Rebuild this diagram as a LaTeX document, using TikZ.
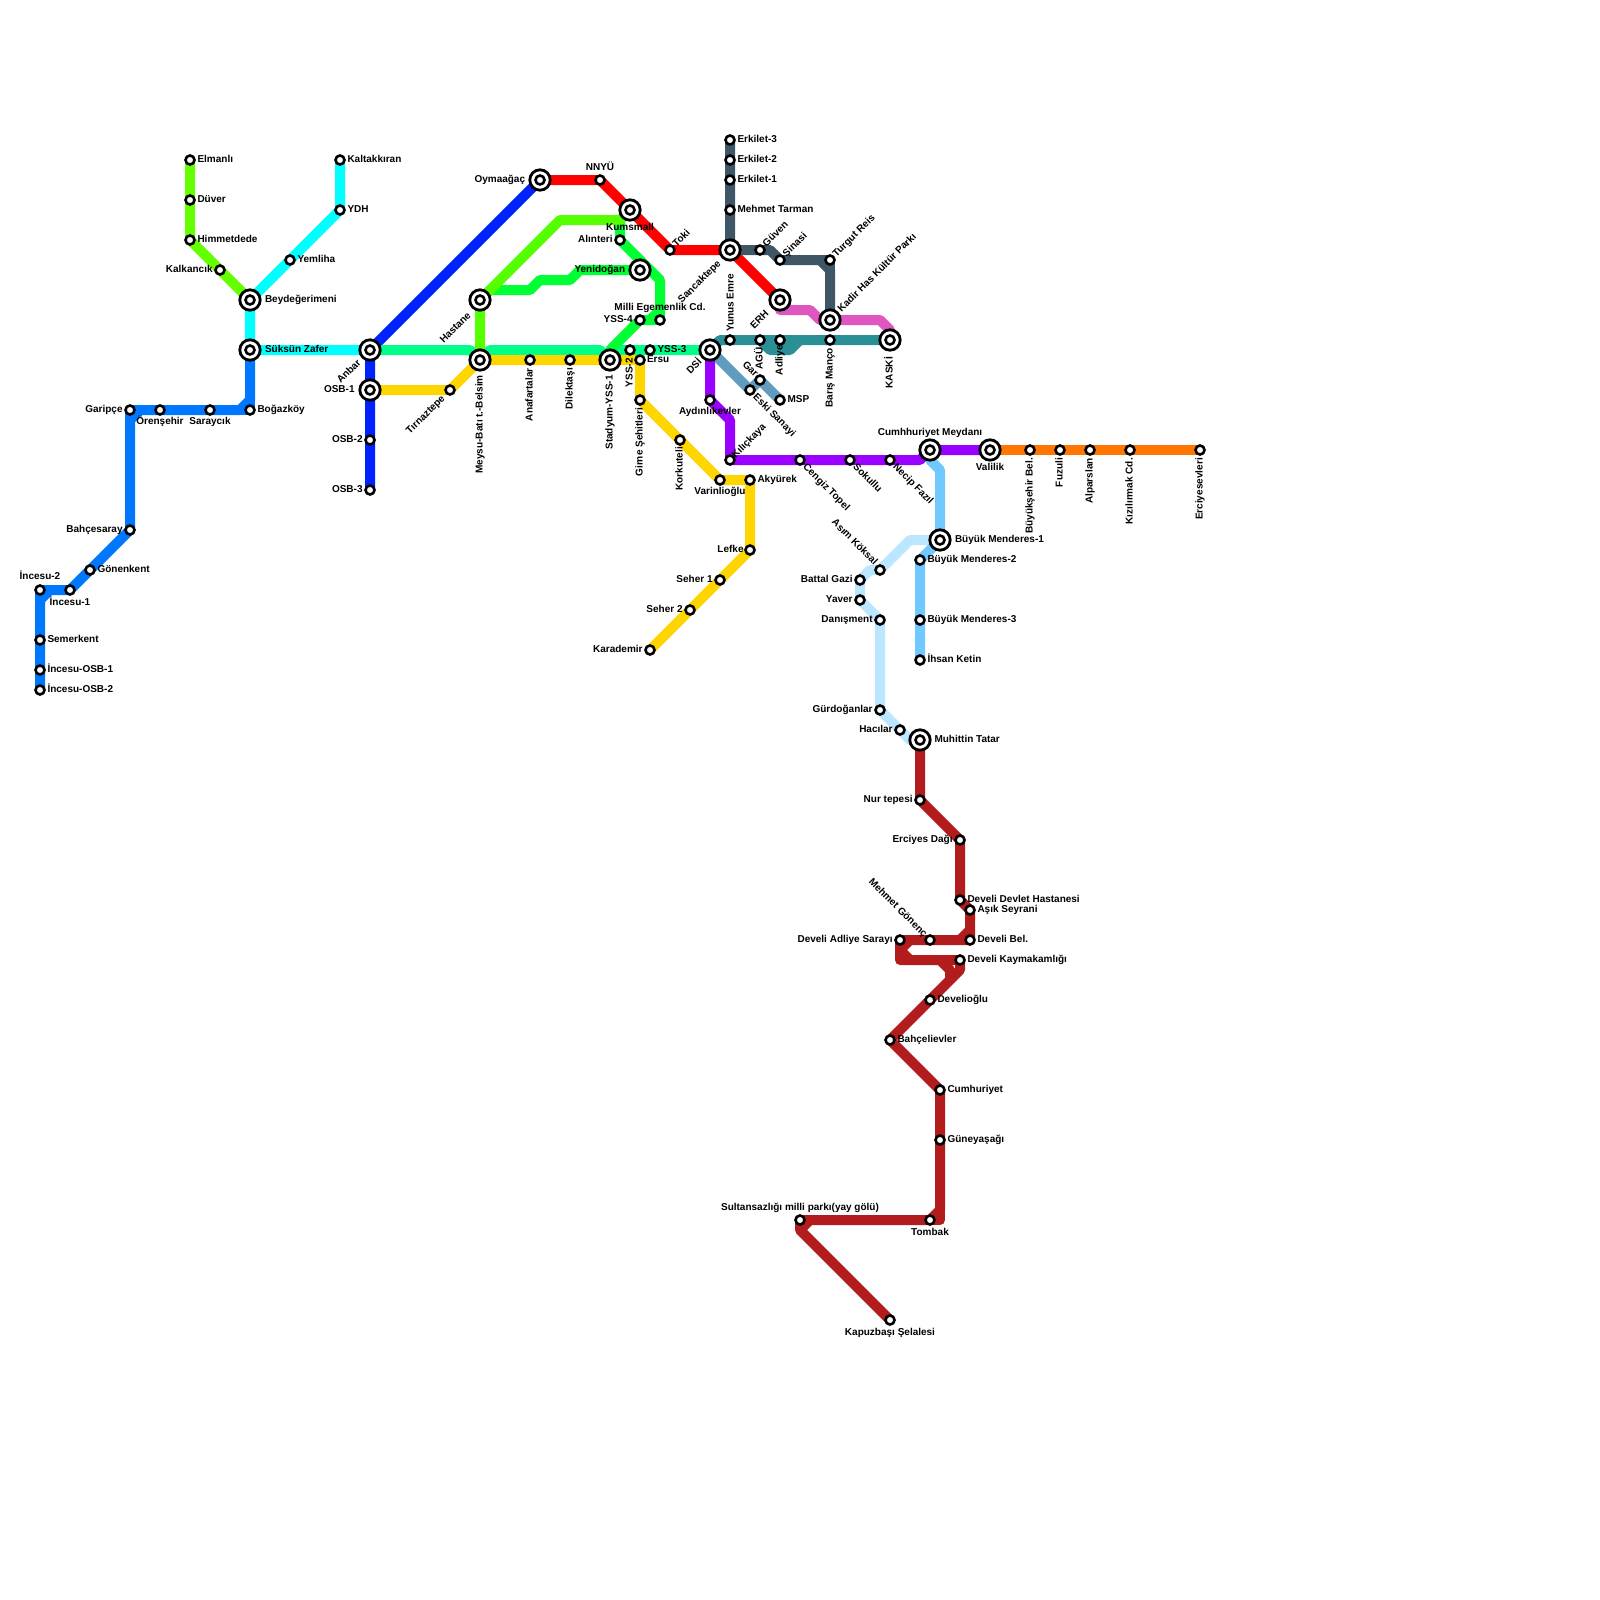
\documentclass[tikz,border=0pt]{standalone}
\usepackage{fontspec}
\setmainfont{Liberation Sans}
\usetikzlibrary{backgrounds}
\definecolor{hatBlue}{HTML}{0077FF}
\definecolor{hatNavy}{HTML}{0022FF}
\definecolor{hatLime}{HTML}{66FF00}
\definecolor{hatGrass}{HTML}{55FF00}
\definecolor{hatCyan}{HTML}{00FFFF}
\definecolor{hatSpring}{HTML}{00FF88}
\definecolor{hatGreen}{HTML}{00FF33}
\definecolor{hatYellow}{HTML}{FFD500}
\definecolor{hatRed}{HTML}{FF0000}
\definecolor{hatSlate}{HTML}{3F5666}
\definecolor{hatPink}{HTML}{E055C0}
\definecolor{hatTeal}{HTML}{2A9096}
\definecolor{hatSteel}{HTML}{609CC0}
\definecolor{hatPurple}{HTML}{9900FF}
\definecolor{hatOrange}{HTML}{FF7700}
\definecolor{hatSky}{HTML}{70C8FF}
\definecolor{hatPale}{HTML}{BBE6FF}
\definecolor{hatBrick}{HTML}{B21C1C}

\begin{document}
\begin{tikzpicture}[
  x=1pt,y=-1pt,
  stn/.style={circle,draw=black,fill=white,line width=2.6pt,minimum size=9pt,inner sep=0pt},
  hub/.style={circle,draw=black,fill=white,line width=2.8pt,minimum size=20.4pt,inner sep=0pt,
    path picture={\draw[black,line width=2.6pt] (path picture bounding box.center) circle (4.5pt);}},
  hat/.style={line width=10pt,line join=round},
  txt/.style={font=\bfseries\fontsize{10}{12}\selectfont,inner sep=0pt,text height=7.2pt,text depth=0pt},
  txtE/.style={txt,anchor=west,xshift=-.7pt},
  txtW/.style={txt,anchor=east,xshift=.8pt},
  upE/.style={txt,rotate=90,anchor=east},
  upW/.style={txt,rotate=90,anchor=west},
  riseE/.style={txt,rotate=45,anchor=west},
  riseW/.style={txt,rotate=45,anchor=east,xshift=-2pt,yshift=1pt},
  fallE/.style={txt,rotate=-45,anchor=west},
  fallW/.style={txt,rotate=-45,anchor=east}
]
\path[use as bounding box] (0,0) rectangle (1600,1600);

% Batı kolu
\node[stn] (osbB) at (40,690) {}; \node[txtE] (osbBt) at (48,689) {İncesu-OSB-2};
\node[stn] (osbA) at (40,670) {}; \node[txtE] (osbAt) at (48,669) {İncesu-OSB-1};
\node[stn] (semerkent) at (40,640) {}; \node[txtE] (semerkentt) at (48,639) {Semerkent};
\node[stn] (incesuB) at (40,590) {}; \node[txt] (incesuBt) at (40,576) {İncesu-2};
\node[stn] (incesuA) at (70,590) {}; \node[txt] (incesuAt) at (70,602) {İncesu-1};
\node[stn] (gonenkent) at (90,570) {}; \node[txtE] (gonenkentt) at (98,569) {Gönenkent};
\node[stn] (bahcesaray) at (130,530) {}; \node[txtW] (bahcesarayt) at (122,529) {Bahçesaray};
\node[stn] (garipce) at (130,410) {}; \node[txtW] (garipcet) at (122,409) {Garipçe};
\node[stn] (orensehir) at (160,410) {}; \node[txt] (orensehirt) at (160,421) {Örenşehir};
\node[stn] (saraycik) at (210,410) {}; \node[txt] (saraycikt) at (210,421) {Saraycık};
\node[stn] (bogazkoy) at (250,410) {}; \node[txtE] (bogazkoyt) at (258,409) {Boğazköy};
\node[hub] (suksun) at (250,350) {}; \node[txtE] (suksunt) at (265.5,349) {Süksün Zafer};
\node[hub] (beyde) at (250,300) {}; \node[txtE] (beydet) at (265.5,299) {Beydeğerimeni};
\node[stn] (elmanli) at (190,160) {}; \node[txtE] (elmanlit) at (198,159) {Elmanlı};
\node[stn] (duver) at (190,200) {}; \node[txtE] (duvert) at (198,199) {Düver};
\node[stn] (himmet) at (190,240) {}; \node[txtE] (himmett) at (198,239) {Himmetdede};
\node[stn] (kalkancik) at (220,270) {}; \node[txtW] (kalkancikt) at (212,269) {Kalkancık};
\node[stn] (yemliha) at (290,260) {}; \node[txtE] (yemlihat) at (298,259) {Yemliha};
\node[stn] (ydh) at (340,210) {}; \node[txtE] (ydht) at (348,209) {YDH};
\node[stn] (kaltak) at (340,160) {}; \node[txtE] (kaltakt) at (348,159) {Kaltakkıran};
\node[hub] (anbar) at (370,350) {}; \node[riseW] (anbart) at (361,360) {Anbar};
\node[hub] (osbI) at (370,390) {}; \node[txtW] (osbIt) at (354,389) {OSB-1};
\node[stn] (osbII) at (370,440) {}; \node[txtW] (osbIIt) at (362,439) {OSB-2};
\node[stn] (osbIII) at (370,490) {}; \node[txtW] (osbIIIt) at (362,489) {OSB-3};
\node[stn] (tirnaz) at (450,390) {}; \node[riseW] (tirnazt) at (445,396) {Tırnaztepe};

% Orta bölge
\node[hub] (hastane) at (480,300) {}; \node[riseW] (hastanet) at (471,313) {Hastane};
\node[hub] (meysu) at (480,360) {}; \node[upE] (meysut) at (479,375) {Meysu-Batı t.-Belsim};
\node[stn] (anafartalar) at (530,360) {}; \node[upE] (anafartalart) at (529,368) {Anafartalar};
\node[stn] (dilektasi) at (570,360) {}; \node[upE] (dilektasit) at (569,368) {Dilektaşı};
\node[hub] (stadyum) at (610,360) {}; \node[upE] (stadyumt) at (609,375) {Stadyum-YSS-1};
\node[stn] (yssB) at (630,350) {}; \node[upE] (yssBt) at (629,358) {YSS-2};
\node[stn] (ersu) at (640,360) {}; \node[txtE] (ersut) at (647.5,359) {Ersu};
\node[stn] (yssC) at (650,350) {}; \node[txtE] (yssCt) at (658,349) {YSS-3};
\node[stn] (yssD) at (640,320) {}; \node[txtW] (yssDt) at (632,319) {YSS-4};
\node[stn] (milli) at (660,320) {}; \node[txt] (millit) at (660,307) {Milli Egemenlik Cd.};
\node[hub] (oymaagac) at (540,180) {}; \node[txtW] (oymaagact) at (524.5,179) {Oymaağaç};
\node[stn] (nnyu) at (600,180) {}; \node[txt] (nnyut) at (600,167) {NNYÜ};
\node[hub] (kumsmall) at (630,210) {}; \node[txt] (kumsmallt) at (630,227) {Kumsmall};
\node[stn] (alinteri) at (620,240) {}; \node[txtW] (alinterit) at (612,239) {Alınteri};
\node[hub] (yenidogan) at (640,270) {}; \node[txtW] (yenidogant) at (624.5,269) {Yenidoğan};
\node[stn] (toki) at (670,250) {}; \node[riseE] (tokit) at (674,245) {Toki};
\node[stn] (girne) at (640,400) {}; \node[upE] (girnet) at (639,408) {Girne Şehitleri};
\node[stn] (korkuteli) at (680,440) {}; \node[upE] (korkutelit) at (679,447) {Korkuteli};
\node[stn] (varinli) at (720,480) {}; \node[txt] (varinlit) at (720,491) {Varinlioğlu};
\node[stn] (akyurek) at (750,480) {}; \node[txtE] (akyurekt) at (758,479) {Akyürek};
\node[stn] (lefke) at (750,550) {}; \node[txtW] (lefket) at (743,549) {Lefke};
\node[stn] (seherA) at (720,580) {}; \node[txtW] (seherAt) at (712,579) {Seher 1};
\node[stn] (seherB) at (690,610) {}; \node[txtW] (seherBt) at (682,609) {Seher 2};
\node[stn] (karademir) at (650,650) {}; \node[txtW] (karademirt) at (642,649) {Karademir};

% Doğu bölge
\node[hub] (dsi) at (710,350) {}; \node[riseW] (dsit) at (702,359) {DSİ};
\node[stn] (erkC) at (730,140) {}; \node[txtE] (erkCt) at (738,139) {Erkilet-3};
\node[stn] (erkB) at (730,160) {}; \node[txtE] (erkBt) at (738,159) {Erkilet-2};
\node[stn] (erkA) at (730,180) {}; \node[txtE] (erkAt) at (738,179) {Erkilet-1};
\node[stn] (tarman) at (730,210) {}; \node[txtE] (tarmant) at (738,209) {Mehmet Tarman};
\node[hub] (sancak) at (730,250) {}; \node[riseW] (sancakt) at (721,261) {Sancaktepe};
\node[stn] (guven) at (760,250) {}; \node[riseE] (guvent) at (764,245) {Güven};
\node[stn] (sinasi) at (780,260) {}; \node[riseE] (sinasit) at (784,255) {Şinasi};
\node[stn] (turgut) at (830,260) {}; \node[riseE] (turgutt) at (834,255) {Turgut Reis};
\node[hub] (erh) at (780,300) {}; \node[riseW] (erht) at (769,311) {ERH};
\node[hub] (kadir) at (830,320) {}; \node[riseE] (kadirt) at (839,310) {Kadir Has Kültür Parkı};
\node[stn] (yunus) at (730,340) {}; \node[upW] (yunust) at (730,332) {Yunus Emre};
\node[stn] (agu) at (760,340) {}; \node[upE] (agut) at (759,347) {AGÜ};
\node[stn] (adliye) at (780,340) {}; \node[upE] (adliyet) at (779,345) {Adliye};
\node[stn] (baris) at (830,340) {}; \node[upE] (barist) at (829,348) {Barış Manço};
\node[hub] (kaski) at (890,340) {}; \node[upE] (kaskit) at (889,357) {KASKİ};
\node[stn] (gar) at (760,380) {}; \node[fallW] (gart) at (757,375) {Gar};
\node[stn] (sanayi) at (750,390) {}; \node[fallE] (sanayit) at (755,395) {Eski Sanayi};
\node[stn] (msp) at (780,400) {}; \node[txtE] (mspt) at (788,399) {MSP};
\node[stn] (aydinlik) at (710,400) {}; \node[txt] (aydinlikt) at (710,411) {Aydınlıkevler};
\node[stn] (kilic) at (730,460) {}; \node[riseE] (kilict) at (733,456) {Kılıçkaya};
\node[stn] (cengiz) at (800,460) {}; \node[fallE] (cengizt) at (805,465) {Cengiz Topel};
\node[stn] (sokullu) at (850,460) {}; \node[fallE] (sokullut) at (855,465) {Sokullu};
\node[stn] (necip) at (890,460) {}; \node[fallE] (necipt) at (895,465) {Necip Fazıl};
\node[hub] (meydan) at (930,450) {}; \node[txt] (meydant) at (930,432) {Cumhhuriyet Meydanı};
\node[hub] (valilik) at (990,450) {}; \node[txt] (valilikt) at (990,467) {Valilik};
\node[stn] (bsb) at (1030,450) {}; \node[upE] (bsbt) at (1029,458) {Büyükşehir Bel.};
\node[stn] (fuzuli) at (1060,450) {}; \node[upE] (fuzulit) at (1059,458) {Fuzuli};
\node[stn] (alparslan) at (1090,450) {}; \node[upE] (alparslant) at (1089,458) {Alparslan};
\node[stn] (kizil) at (1130,450) {}; \node[upE] (kizilt) at (1129,458) {Kızılırmak Cd.};
\node[stn] (erciyesev) at (1200,450) {}; \node[upE] (erciyesevt) at (1199,458) {Erciyesevleri};

% Menderes ve Develi
\node[hub] (bmA) at (940,540) {}; \node[txtE] (bmAt) at (955.5,539) {Büyük Menderes-1};
\node[stn] (bmB) at (920,560) {}; \node[txtE] (bmBt) at (928,559) {Büyük Menderes-2};
\node[stn] (bmC) at (920,620) {}; \node[txtE] (bmCt) at (928,619) {Büyük Menderes-3};
\node[stn] (ihsan) at (920,660) {}; \node[txtE] (ihsant) at (928,659) {İhsan Ketin};
\node[stn] (asim) at (880,570) {}; \node[fallW] (asimt) at (876.5,563) {Asım Köksal};
\node[stn] (battal) at (860,580) {}; \node[txtW] (battalt) at (852,579) {Battal Gazi};
\node[stn] (yaver) at (860,600) {}; \node[txtW] (yavert) at (852,599) {Yaver};
\node[stn] (danisment) at (880,620) {}; \node[txtW] (danismentt) at (872,619) {Danışment};
\node[stn] (gurdogan) at (880,710) {}; \node[txtW] (gurdogant) at (872,709) {Gürdoğanlar};
\node[stn] (hacilar) at (900,730) {}; \node[txtW] (hacilart) at (892,729) {Hacılar};
\node[hub] (muhittin) at (920,740) {}; \node[txtE] (muhittint) at (935,739) {Muhittin Tatar};
\node[stn] (nur) at (920,800) {}; \node[txtW] (nurt) at (912,799) {Nur tepesi};
\node[stn] (erciyes) at (960,840) {}; \node[txtW] (erciyest) at (952,839) {Erciyes Dağı};
\node[stn] (devlet) at (960,900) {}; \node[txtE] (devlett) at (968,899) {Develi Devlet Hastanesi};
\node[stn] (asik) at (970,910) {}; \node[txtE] (asikt) at (978,909) {Aşık Seyrani};
\node[stn] (develibel) at (970,940) {}; \node[txtE] (develibelt) at (978,939) {Develi Bel.};
\node[stn] (gonenc) at (930,940) {}; \node[fallW] (gonenct) at (926,935) {Mehmet Gönenç};
\node[stn] (saray) at (900,940) {}; \node[txtW] (sarayt) at (892,939) {Develi Adliye Sarayı};
\node[stn] (kaymakam) at (960,960) {}; \node[txtE] (kaymakamt) at (968,959) {Develi Kaymakamlığı};
\node[stn] (develioglu) at (930,1000) {}; \node[txtE] (develioglut) at (938,999) {Develioğlu};
\node[stn] (bahceli) at (890,1040) {}; \node[txtE] (bahcelit) at (898,1039) {Bahçelievler};
\node[stn] (cumhuriyet) at (940,1090) {}; \node[txtE] (cumhuriyett) at (948,1089) {Cumhuriyet};
\node[stn] (guneyasagi) at (940,1140) {}; \node[txtE] (guneyasagit) at (948,1139) {Güneyaşağı};
\node[stn] (tombak) at (930,1220) {}; \node[txt] (tombakt) at (930,1232) {Tombak};
\node[stn] (sultan) at (800,1220) {}; \node[txt] (sultant) at (800,1207) {Sultansazlığı milli parkı(yay gölü)};
\node[stn] (kapuzbasi) at (890,1320) {}; \node[txt] (kapuzbasit) at (890,1332) {Kapuzbaşı Şelalesi};

% Kırılma noktaları
\coordinate (bIncA) at (40,600); \coordinate (bIncB) at (50,590);
\coordinate (bGarA) at (130,420); \coordinate (bGarB) at (140,410);
\coordinate (bBogA) at (240,410); \coordinate (bBogB) at (250,400);
\coordinate (bLimeA) at (560,220); \coordinate (bLimeB) at (620,220);
\coordinate (bGrnA) at (490,290); \coordinate (bGrnB) at (530,290);
\coordinate (bGrnC) at (540,280); \coordinate (bGrnD) at (570,280);
\coordinate (bGrnE) at (580,270);
\coordinate (bAlnA) at (660,280); \coordinate (bAlnB) at (660,310);
\coordinate (bAlnC) at (650,320); \coordinate (bAlnD) at (610,350);
\coordinate (bSprA) at (470,350); \coordinate (bSprB) at (490,350);
\coordinate (bSprC) at (600,350); \coordinate (bSprD) at (620,350);
\coordinate (bTurA) at (820,260); \coordinate (bTurB) at (830,270);
\coordinate (bTurC) at (770,250);
\coordinate (bPnkA) at (780,310); \coordinate (bPnkB) at (810,310);
\coordinate (bPnkC) at (820,320); \coordinate (bPnkD) at (880,320);
\coordinate (bPnkE) at (890,330);
\coordinate (bTeaA) at (720,340); \coordinate (bTeaB) at (770,350);
\coordinate (bTeaC) at (790,350); \coordinate (bTeaD) at (800,340);
\coordinate (bPurA) at (730,420); \coordinate (bPurB) at (920,460);
\coordinate (bSkyA) at (930,460); \coordinate (bSkyB) at (940,470);
\coordinate (bPalA) at (910,540); \coordinate (bPalB) at (870,570);
\coordinate (bPalC) at (910,740);
\coordinate (bBrkA) at (970,930); \coordinate (bBrkB) at (960,940);
\coordinate (bBrkC) at (900,960); \coordinate (bBrkD) at (910,940);
\coordinate (bBrkE) at (900,950); \coordinate (bBrkF) at (910,960);
\coordinate (bBrkG) at (960,970); \coordinate (bBrkH) at (940,960);
\coordinate (bBrkI) at (950,970); \coordinate (bBrkJ) at (950,980);
\coordinate (bBrkK) at (940,1210); \coordinate (bBrkL) at (940,1220);
\coordinate (bBrkM) at (800,1230); \coordinate (bBrkN) at (810,1220);

\begin{scope}[on background layer]
\draw[hat,draw=hatCyan] (kaltak.center) -- (ydh.center) -- (beyde.center) -- (suksun.center) -- (anbar.center);
\draw[hat,draw=hatLime] (elmanli.center) -- (himmet.center) -- (beyde.center);
\draw[hat,draw=hatBlue] (osbB.center) -- (bIncA) -- (bIncB) -- (incesuA.center) -- (bahcesaray.center) -- (garipce.center) -- (bBogA) -- (bBogB) -- (suksun.center);
\draw[hat,draw=hatBlue] (bIncA) -- (incesuB.center) -- (bIncB);
\draw[hat,draw=hatBlue] (bGarA) -- (bGarB);
\draw[hat,draw=hatBlue] (bBogA) -- (bogazkoy.center) -- (bBogB);
\draw[hat,draw=hatNavy] (osbIII.center) -- (anbar.center) -- (oymaagac.center);
\draw[hat,draw=hatSpring] (anbar.center) -- (bSprA) -- (meysu.center) -- (bSprB) -- (bSprC) -- (stadyum.center) -- (bSprD) -- (dsi.center);
\draw[hat,draw=hatYellow] (osbI.center) -- (tirnaz.center) -- (meysu.center) -- (ersu.center) -- (girne.center) -- (varinli.center) -- (akyurek.center) -- (lefke.center) -- (karademir.center);
\draw[hat,draw=hatGreen] (hastane.center) -- (bGrnA) -- (bGrnB) -- (bGrnC) -- (bGrnD) -- (bGrnE) -- (yenidogan.center);
\draw[hat,draw=hatGreen] (bLimeB) -- (alinteri.center) -- (bAlnA) -- (bAlnB) -- (bAlnC) -- (yssD.center) -- (bAlnD) -- (stadyum.center);
\draw[hat,draw=hatGreen] (bAlnC) -- (milli.center) -- (bAlnB);
\draw[hat,draw=hatGrass] (meysu.center) -- (hastane.center) -- (bLimeA) -- (bLimeB) -- (kumsmall.center);
\draw[hat,draw=hatRed] (oymaagac.center) -- (nnyu.center) -- (toki.center) -- (sancak.center) -- (erh.center);
\draw[hat,draw=hatSlate] (erkC.center) -- (sancak.center) -- (guven.center) -- (bTurC) -- (sinasi.center) -- (bTurA) -- (bTurB) -- (kadir.center);
\draw[hat,draw=hatSlate] (bTurA) -- (turgut.center) -- (bTurB);
\draw[hat,draw=hatPink] (erh.center) -- (bPnkA) -- (bPnkB) -- (bPnkC) -- (bPnkD) -- (bPnkE) -- (kaski.center);
\draw[hat,draw=hatTeal] (dsi.center) -- (bTeaA) -- (kaski.center);
\draw[hat,draw=hatTeal] (agu.center) -- (bTeaB) -- (bTeaC) -- (bTeaD);
\draw[hat,draw=hatSteel] (dsi.center) -- (sanayi.center) -- (gar.center) -- (msp.center);
\draw[hat,draw=hatPurple] (dsi.center) -- (aydinlik.center) -- (bPurA) -- (kilic.center) -- (bPurB) -- (meydan.center) -- (valilik.center);
\draw[hat,draw=hatOrange] (valilik.center) -- (erciyesev.center);
\draw[hat,draw=hatPale] (bmA.center) -- (bPalA) -- (asim.center) -- (bPalB) -- (battal.center) -- (yaver.center) -- (danisment.center) -- (gurdogan.center) -- (bPalC) -- (muhittin.center);
\draw[hat,draw=hatSky] (meydan.center) -- (bSkyA) -- (bSkyB) -- (bmA.center) -- (bmB.center) -- (ihsan.center);
\draw[hat,draw=hatBrick] (muhittin.center) -- (nur.center) -- (erciyes.center) -- (devlet.center) -- (asik.center) -- (develibel.center) -- (bBrkB) -- (saray.center) -- (bBrkC) -- (kaymakam.center) -- (bBrkG) -- (bahceli.center) -- (cumhuriyet.center) -- (bBrkK) -- (tombak.center) -- (sultan.center) -- (bBrkM) -- (kapuzbasi.center);
\draw[hat,draw=hatBrick] (bBrkA) -- (bBrkB);
\draw[hat,draw=hatBrick] (bBrkD) -- (bBrkE) -- (bBrkF);
\draw[hat,draw=hatBrick] (bBrkH) -- (bBrkI) -- (bBrkJ);
\draw[hat,draw=hatBrick] (bBrkK) -- (bBrkL) -- (tombak.center);
\draw[hat,draw=hatBrick] (bBrkN) -- (bBrkM);
\end{scope}
\end{tikzpicture}
\end{document}
